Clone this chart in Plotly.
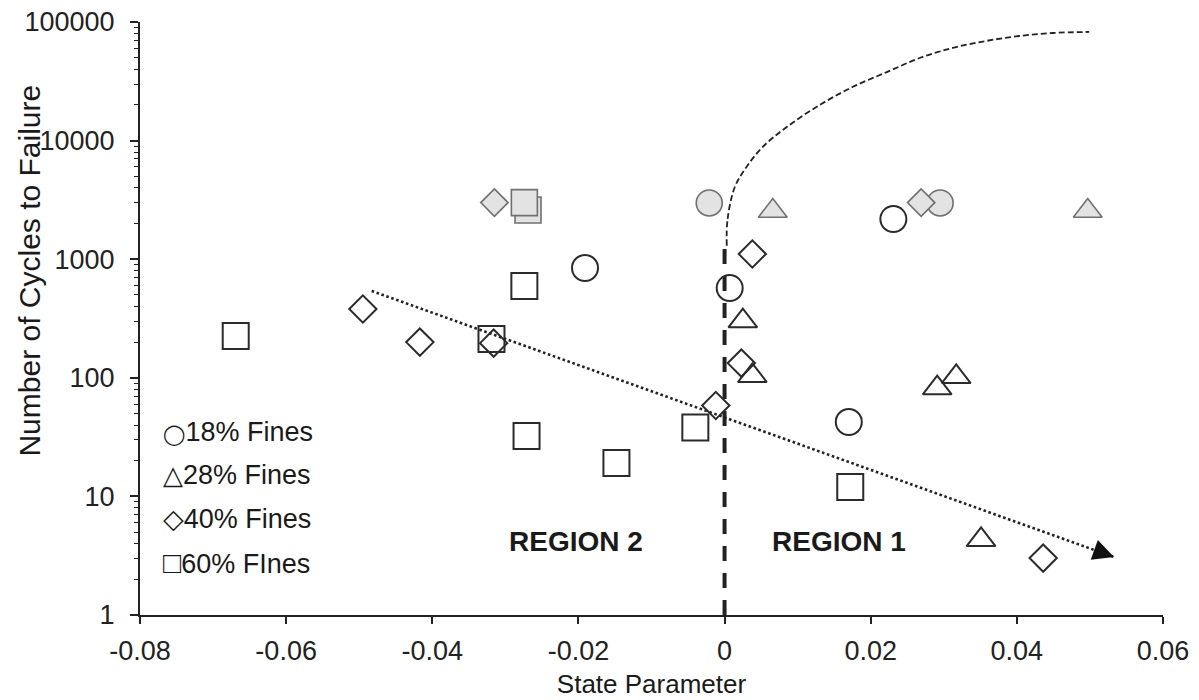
import plotly.graph_objects as go
import math

# ---------------- data ----------------
fines_labels = ["18% Fines", "28% Fines", "40% Fines", "60% FInes"]
legend_glyphs = ["\u25EF", "\u25B3", "\u25C7", "\u25A1"]

# specimens that failed (open symbols)
c18_x = [-0.0191, 0.0007, 0.0231, 0.0170]
c18_y = [843, 571, 2180, 42.4]
t28_x = [0.0025, 0.0038, 0.0291, 0.0317, 0.0351]
t28_y = [301, 104, 82, 102, 4.3]
d40_x = [-0.0495, -0.0417, -0.0316, 0.0038, 0.0023, -0.0012, 0.0436]
d40_y = [380, 200, 196, 1107, 133, 58.4, 3.02]
s60_x = [-0.0669, -0.0274, -0.0319, -0.0271, -0.0148, -0.0040, 0.0172]
s60_y = [225, 594, 212, 32.3, 19.1, 38.1, 12.0]

# specimens that did not fail (grey symbols)
g18_x = [-0.0021, 0.0295]
g18_y = [2980, 2980]
g28_x = [0.0066, 0.0497]
g28_y = [2550, 2550]
g40_x = [-0.0315, 0.0269]
g40_y = [3000, 3000]
g60_x = [-0.0269, -0.0274]
g60_y = [2600, 3000]

# trend line (dotted arrow)
trend_x = [-0.0483, 0.0533]
trend_y = [540, 3.08]

# region boundary (state parameter = 0)
bound_x = [0, 0]
bound_y = [1, 1400]

# upper dashed curve
curve_x = [0.0003, 0.0004, 0.0014, 0.0030, 0.0052, 0.0085, 0.0130, 0.0175,
           0.0222, 0.0267, 0.0312, 0.0358, 0.0403, 0.0449, 0.0499]
curve_y = [1300, 2140, 4060, 5990, 8830, 13000, 19950, 28300,
           37800, 49700, 60400, 69200, 76200, 80800, 82400]

region_labels = ["REGION 2", "REGION 1"]
region_x = [-0.0204, 0.0157]
region_y = [4.13, 4.13]

x_tickvals = [-0.08, -0.06, -0.04, -0.02, 0, 0.02, 0.04, 0.06]
x_ticktext = ["-0.08", "-0.06", "-0.04", "-0.02", "0", "0.02", "0.04", "0.06"]
y_tickvals = [1, 10, 100, 1000, 10000, 100000]
y_ticktext = ["1", "10", "100", "1000", "10000", "100000"]
y_minorvals = [m * d for d in [1, 10, 100, 1000, 10000] for m in range(2, 10)]

# ---------------- style ----------------
FONT = "Liberation Sans, Arial, DejaVu Sans, sans-serif"
INK = "#222222"
TXT = "#1a1a1a"
MK = "#2b2b2b"
GREY_FILL = "#e3e3e3"
GREY_LINE = "#707070"

fig = go.Figure()

# grey (run-out) markers
for xs, ys, sym, size, name in [
    (g18_x, g18_y, "circle", 26, fines_labels[0]),
    (g28_x, g28_y, "triangle-up", 25, fines_labels[1]),
    (g40_x, g40_y, "diamond", 21, fines_labels[2]),
    (g60_x, g60_y, "square", 26, fines_labels[3]),
]:
    fig.add_trace(go.Scatter(
        x=xs, y=ys, mode="markers", name=name + " (no failure)", showlegend=False,
        marker=dict(symbol=sym, size=size, color=GREY_FILL,
                    line=dict(color=GREY_LINE, width=1.6)),
        hoverinfo="x+y"))

# upper dashed curve
fig.add_trace(go.Scatter(
    x=curve_x, y=curve_y, mode="lines", showlegend=False,
    line=dict(color=INK, width=1.8, dash="6px,3px", shape="spline"),
    hoverinfo="skip"))

# boundary line
fig.add_trace(go.Scatter(
    x=bound_x, y=bound_y, mode="lines", showlegend=False,
    line=dict(color=INK, width=4, dash="15px,12px"),
    hoverinfo="skip"))

# trend line
fig.add_trace(go.Scatter(
    x=trend_x, y=trend_y, mode="lines", showlegend=False,
    line=dict(color=INK, width=2.6, dash="2.6px,2.6px"),
    hoverinfo="skip"))

# open markers
for xs, ys, sym, size, name in [
    (c18_x, c18_y, "circle-open", 26, fines_labels[0]),
    (t28_x, t28_y, "triangle-up-open", 25, fines_labels[1]),
    (d40_x, d40_y, "diamond-open", 21, fines_labels[2]),
    (s60_x, s60_y, "square-open", 26, fines_labels[3]),
]:
    fig.add_trace(go.Scatter(
        x=xs, y=ys, mode="markers", name=name, showlegend=False,
        marker=dict(symbol=sym, size=size, color=MK, line=dict(color=MK, width=2)),
        hoverinfo="x+y"))

annotations = []

# arrow head at the end of the trend line
lx0, lx1 = trend_x
ly0, ly1 = math.log10(trend_y[0]), math.log10(trend_y[1])
back = 0.0025
ax_tail = lx1 - back
ay_tail = ly0 + (ly1 - ly0) * (ax_tail - lx0) / (lx1 - lx0)
annotations.append(dict(
    x=lx1, y=ly1, ax=ax_tail, ay=ay_tail, xref="x", yref="y", axref="x", ayref="y",
    showarrow=True, arrowhead=2, arrowsize=2.1, arrowwidth=2, arrowcolor="#111111",
    text=""))

# region labels
for t, xv, yv in zip(region_labels, region_x, region_y):
    annotations.append(dict(
        x=xv, y=math.log10(yv), xref="x", yref="y", text="<b>%s</b>" % t,
        showarrow=False, font=dict(family=FONT, size=28, color=TXT)))

# legend texts
glyph_sizes = [20, 26, 27, 30]
leg_y = [0.3086, 0.2361, 0.1619, 0.0877]
for g, gs, lab, yv in zip(legend_glyphs, glyph_sizes, fines_labels, leg_y):
    annotations.append(dict(
        x=0.0205, y=yv, xref="paper", yref="paper", xanchor="left", yanchor="middle",
        text="<span style='font-size:%dpx'>%s</span>%s" % (gs, g, lab),
        showarrow=False, font=dict(family=FONT, size=27, color=TXT)))

# y-axis title
annotations.append(dict(
    x=-0.108, y=0.58, xref="paper", yref="paper", xanchor="center", yanchor="middle",
    text="Number of Cycles to Failure", textangle=-90, showarrow=False,
    font=dict(family=FONT, size=30, color=TXT)))

fig.update_layout(
    width=1199, height=700,
    margin=dict(l=140, r=36, t=22, b=85, autoexpand=False),
    paper_bgcolor="white", plot_bgcolor="white",
    showlegend=False,
    annotations=annotations,
    font=dict(family=FONT, color=INK),
)

fig.update_xaxes(
    range=[-0.08, 0.06], tickvals=x_tickvals, ticktext=x_ticktext,
    showgrid=False, zeroline=False, showline=True, linecolor=INK, linewidth=2,
    ticks="outside", ticklen=7, tickwidth=1.5, tickcolor=INK,
    tickfont=dict(family=FONT, size=27, color=INK), ticklabelstandoff=4,
    title=dict(text="State Parameter", font=dict(family=FONT, size=26, color=TXT),
               standoff=9),
    automargin=False)

fig.update_yaxes(
    type="log", range=[0, 5], tickvals=y_tickvals, ticktext=y_ticktext,
    showgrid=False, zeroline=False, showline=True, linecolor=INK, linewidth=2,
    ticks="outside", ticklen=8, tickwidth=1.5, tickcolor=INK,
    minor=dict(tickvals=y_minorvals, ticks="outside", ticklen=4, tickwidth=1,
               tickcolor=INK, showgrid=False),
    tickfont=dict(family=FONT, size=27, color=INK), ticklabelstandoff=10,
    automargin=False)

fig.write_html("out.html")
